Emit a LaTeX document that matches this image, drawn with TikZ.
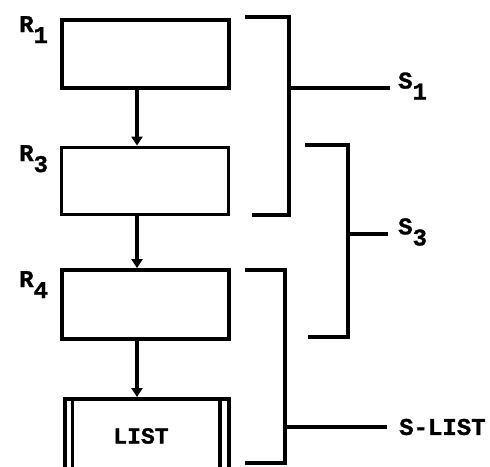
\documentclass[tikz,border=0pt]{standalone}
\usepackage{fontspec}
\setmainfont{Liberation Mono}
\newfontfamily\heavy{Liberation Mono Bold}[FakeBold=1.2]
\usetikzlibrary{arrows.meta}
\tikzset{
  blk/.style={draw, line width=3.8pt, minimum width=167pt, inner sep=0pt},
  lbl/.style={font=\fontsize{24}{26}\heavy, inner sep=0pt, anchor=west},
  brk/.style={line width=3.2pt},
  flow/.style={line width=3.2pt, -{Triangle[width=11pt,length=9pt]}},
}
\newcommand{\sbs}[1]{\raisebox{-11pt}{#1}}
\begin{document}
\begin{tikzpicture}[x=1pt,y=-1pt]
\clip (0,0) rectangle (490,466);
\fill[white] (0,0) rectangle (490,466);
% boxes
\node[blk, minimum height=68pt] (b1) at (145.5,54) {};
\node[blk, minimum height=67pt] (b2) at (145,181) {};
\node[blk, minimum height=69pt] (b3) at (145.5,304.5) {};
\node[blk, minimum width=164pt, minimum height=140pt, anchor=north] (b4) at (147,397) {};
\draw[line width=3.2pt] ([xshift=9pt]b4.north west) -- ([xshift=9pt]b4.south west);
\draw[line width=3.2pt] ([xshift=-11pt]b4.north east) -- ([xshift=-11pt]b4.south east);
\node[font=\fontsize{23}{25}\heavy, inner sep=0pt] (lt) at (141,436) {LIST};
% labels
\node[lbl, anchor=north west] (r1) at (19,16) {R\sbs{1}};
\node[lbl, anchor=north west] (r3) at (19,145) {R\sbs{3}};
\node[lbl, anchor=north west] (r4) at (19,271) {R\sbs{4}};
% flow arrows
\draw[flow] (b1.south -| 137,0) -- (b2.north -| 137,0);
\draw[flow] (b2.south -| 137,0) -- (b3.north -| 137,0);
\draw[flow] (b3.south -| 137,0) -- (b4.north -| 137,0);
% brackets
\coordinate (s1a) at (245,17);
\coordinate (s1b) at (252,215);
\coordinate (s1m) at (289,88);
\coordinate (s1e) at (390,88);
\draw[brk] (s1a) -| (s1m) |- (s1b);
\draw[brk] (s1m) -- (s1e);
\node[lbl] (s1) at (398,86) {S\sbs{1}};
\coordinate (s3a) at (305,145);
\coordinate (s3b) at (308,337);
\coordinate (s3m) at (348,234);
\coordinate (s3e) at (388,234);
\draw[brk] (s3a) -| (s3m) |- (s3b);
\draw[brk] (s3m) -- (s3e);
\node[lbl] (s3) at (398,232) {S\sbs{3}};
\coordinate (sla) at (245,270);
\coordinate (slb) at (245,463);
\coordinate (slm) at (285,427);
\coordinate (sle) at (387,427);
\draw[brk] (sla) -| (slm) |- (slb);
\draw[brk] (slm) -- (sle);
\node[lbl] (sl) at (399,427) {S-LIST};
\end{tikzpicture}
\end{document}
